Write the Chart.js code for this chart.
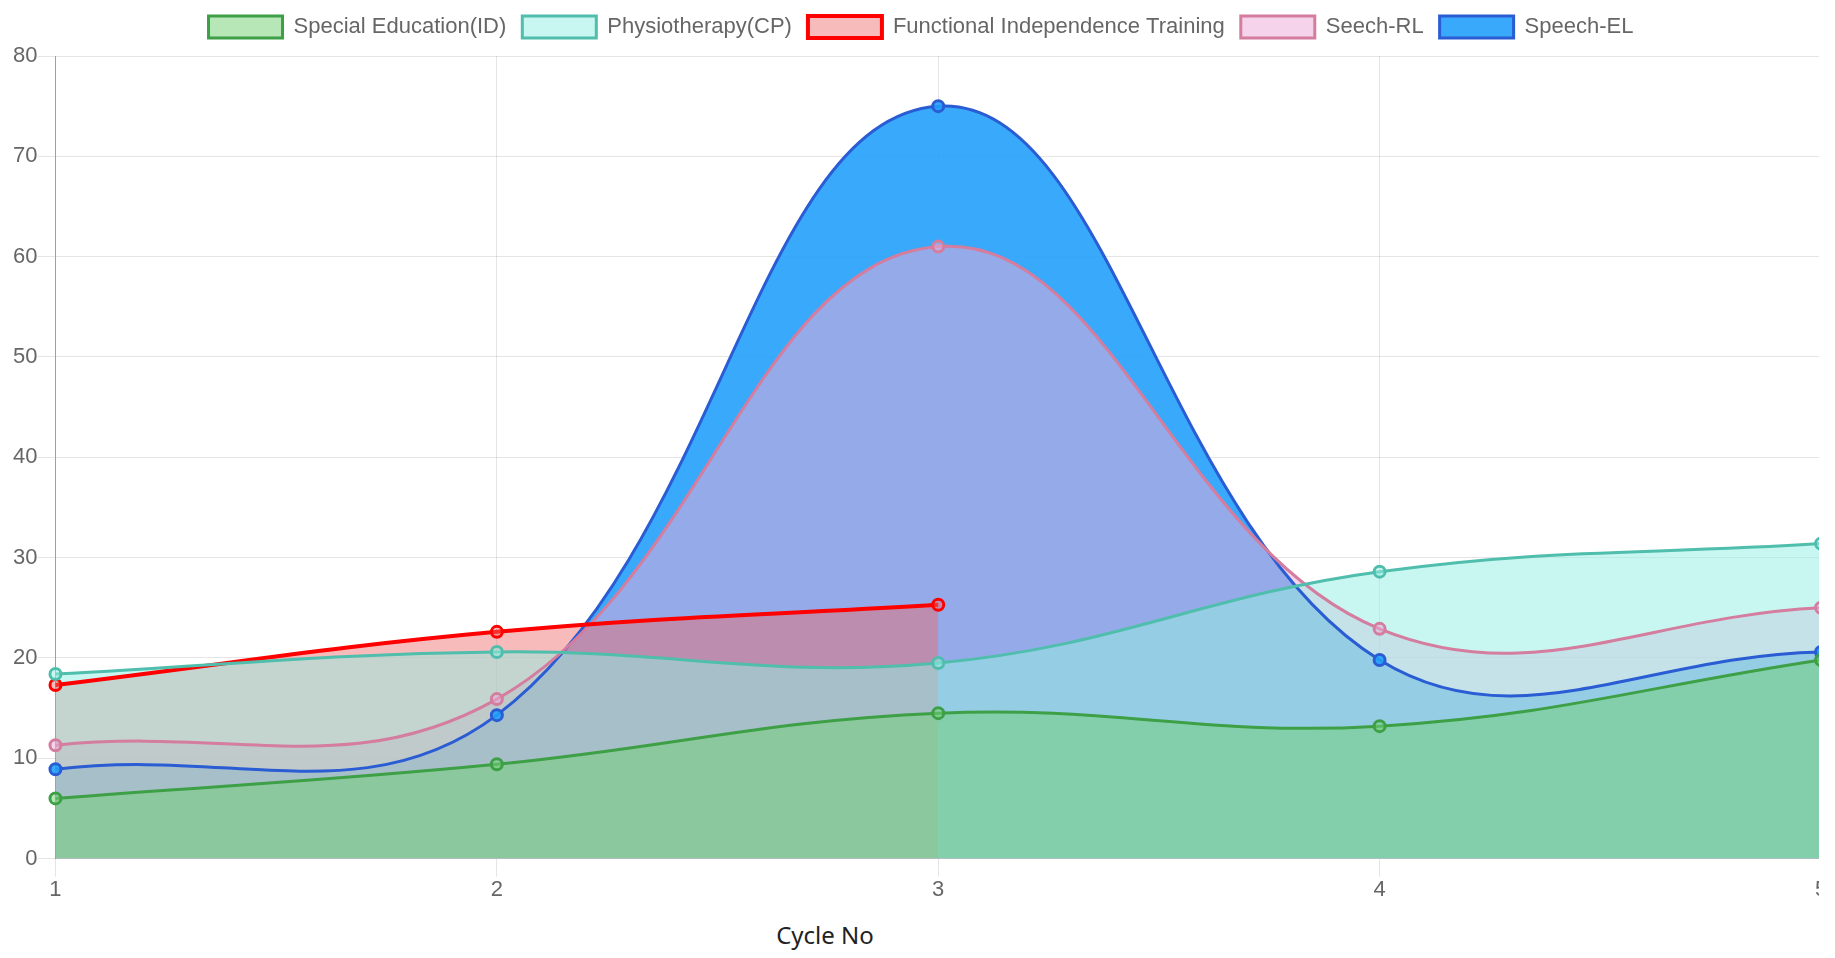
<!DOCTYPE html>
<html>
<head>
<meta charset="utf-8">
<script src="https://cdn.jsdelivr.net/npm/chart.js@4/dist/chart.umd.min.js"></script>
<style>
    html, body { margin: 0; padding: 0; background: #fff; overflow: hidden; }
    #wrap { position: absolute; left: 0; top: 0; width: 1819px; height: 958px; overflow: hidden; }
    #holder { position: absolute; left: 0; top: 0; width: 1846px; height: 903px; }
    #xTitle { position: absolute; left: 825px; top: 934px; transform: translate(-50%, -50%);
        font-family: 'Noto Sans', 'Open Sans', sans-serif; font-size: 24px; color: #222; white-space: nowrap; }
</style>
</head>
<body>
<div id="wrap">
    <div id="holder"><canvas id="graph"></canvas></div>
</div>
<div id="xTitle">Cycle No</div>
<script>
var cycles = ['1', '2', '3', '4', '5'];
var specialEducation = [6, 9.4, 14.5, 13.2, 19.8];
var physiotherapy = [18.4, 20.6, 19.5, 28.6, 31.4];
var functionalTraining = [17.3, 22.6, 25.3];
var speechRL = [11.3, 15.9, 61, 22.9, 25];
var speechEL = [8.9, 14.3, 75, 19.8, 20.6];
var yTicks = [0, 10, 20, 30, 40, 50, 60, 70, 80];

var ctx = document.getElementById('graph').getContext('2d');
var font = {family: "'Liberation Sans', Arial, sans-serif", size: 22};

function series(name, data, line, fill, width){
    return {
        label: name,
        data: data,
        fill: 'origin',
        tension: 0.4,
        borderColor: line,
        backgroundColor: fill,
        borderWidth: width,
        pointRadius: 5.5,
        pointBorderWidth: 3,
        pointBorderColor: line,
        pointBackgroundColor: fill
    };
}

var datasets = [
    series('Special Education(ID)', specialEducation, 'rgb(62,160,70)', 'rgba(117,209,117,0.52)', 3),
    series('Physiotherapy(CP)', physiotherapy, 'rgb(80,190,172)', 'rgba(149,238,226,0.52)', 3),
    series('Functional Independence Training', functionalTraining, 'rgb(255,0,0)', 'rgba(238,104,104,0.45)', 4),
    series('Seech-RL', speechRL, 'rgb(212,125,158)', 'rgba(236,172,216,0.52)', 3),
    series('Speech-EL', speechEL, 'rgb(42,92,212)', 'rgba(33,160,250,0.89)', 3)
];

// leave a gap under the legend and nudge it right, like the original layout
var legendGap = {
    id: 'legendGap',
    beforeInit: function(chart){
        var fit = chart.legend.fit;
        chart.legend.fit = function(){
            fit.bind(chart.legend)();
            this.height += 8;
        };
    },
    afterLayout: function(chart){
        chart.legend.left += 4;
        chart.legend.right += 4;
    }
};

var chart = new Chart(ctx, {
    type: 'line',
    data: {labels: cycles, datasets: datasets},
    plugins: [legendGap],
    options: {
        responsive: true,
        maintainAspectRatio: false,
        animation: false,
        layout: {padding: {left: 13, right: 25, top: 0, bottom: 0}},
        plugins: {
            filler: {drawTime: 'beforeDatasetsDraw'},
            legend: {
                labels: {
                    font: font,
                    color: '#666',
                    boxWidth: 74,
                    boxHeight: 22,
                    padding: 16
                }
            },
            tooltip: {enabled: false}
        },
        scales: {
            x: {
                grid: {color: 'rgba(0,0,0,0.1)', tickLength: 18},
                border: {color: 'rgba(0,0,0,0.15)'},
                ticks: {font: font, color: '#666', padding: 0, maxRotation: 0}
            },
            y: {
                min: yTicks[0],
                max: yTicks[yTicks.length - 1],
                grid: {color: 'rgba(0,0,0,0.1)', tickLength: 18},
                border: {color: 'rgba(0,0,0,0.3)'},
                afterBuildTicks: function(axis){
                    axis.ticks = yTicks.map(function(v){ return {value: v}; });
                },
                ticks: {font: font, color: '#666', padding: 0}
            }
        }
    }
});
</script>
</body>
</html>
